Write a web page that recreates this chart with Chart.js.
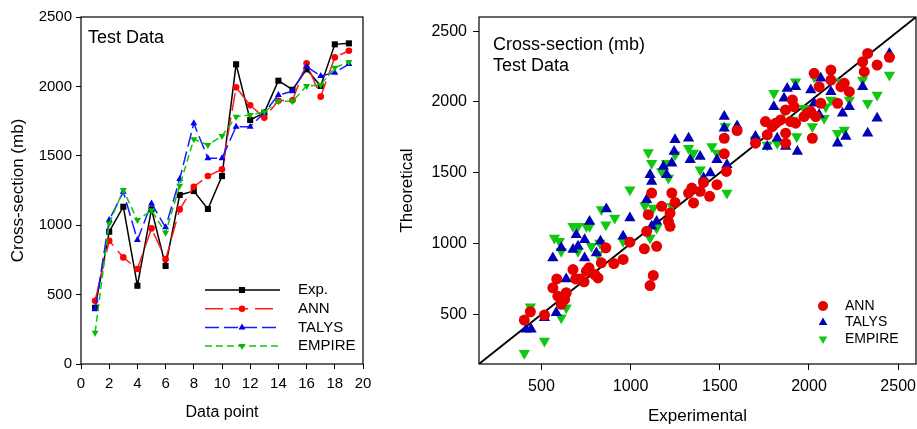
<!DOCTYPE html>
<html>
<head>
<meta charset="utf-8">
<script src="https://cdn.jsdelivr.net/npm/chart.js@4.4.1/dist/chart.umd.min.js"></script>
<style>
  html, body { margin: 0; padding: 0; background: #fff; }
  #wrapL { position: absolute; left: 0; top: 0; width: 380px; height: 429px; }
  #wrapR { position: absolute; left: 385px; top: 0; width: 532px; height: 429px; }
</style>
</head>
<body>
<div id="wrapL"><canvas id="left" width="380" height="429"></canvas></div>
<div id="wrapR"><canvas id="right" width="532" height="429"></canvas></div>
<script>
// ---------- Left panel data ----------
const dataPoints = [1,2,3,4,5,6,7,8,9,10,11,12,13,14,15,16,17,18,19];
const expVals    = [405,953,1133,564,1115,706,1218,1246,1117,1354,2159,1758,1811,2041,1976,2123,2003,2303,2310];
const annVals    = [456,888,768,684,977,754,1114,1277,1354,1403,1993,1864,1775,1897,1900,2166,1926,2209,2257];
const talysVals  = [394,1037,1241,893,1157,985,1333,1734,1482,1482,1710,1710,1811,1938,1965,2142,2075,2099,2161];
const empireVals = [226,1013,1253,1037,1107,946,1285,1619,1578,1643,1782,1794,1816,1893,1893,2003,2010,2135,2176];
const leftXTicks = [0,2,4,6,8,10,12,14,16,18,20];
const leftYTicks = [0,500,1000,1500,2000,2500];

// ---------- Right panel data ----------
const annExp = [404,438,517,564,586,592,611,630,639,677,692,714,739,752,767,799,817,836,861,906,958,996,1077,1109,1127,1146,1090,1221,1212,1118,1099,1174,1231,1249,1221,1325,1343,1353,1390,1409,1443,1484,1525,1525,1537,1597,1700,1756,1766,1794,1813,1841,1869,1869,1869,1907,1916,1925,1897,1972,1991,2010,2019,2038,2066,2057,2029,2123,2123,2160,2179,2198,2226,2301,2310,2329,2382,2451];
const annTheo = [460,519,496,688,751,629,571,606,653,817,751,751,730,805,829,782,758,864,970,859,888,1010,963,704,775,981,1087,1122,1157,1357,1204,1263,1357,1291,1216,1357,1392,1287,1369,1432,1334,1416,1634,1744,1510,1798,1709,1862,1768,1826,1850,1873,1780,1709,1944,2014,1967,1850,1862,1897,1920,1932,1744,1897,1991,2108,2202,2225,2155,1991,2108,2132,2073,2284,2214,2343,2261,2315];
const talysExp = [414,442,517,564,611,583,639,695,677,705,742,742,770,808,831,996,958,1118,1146,864,1090,1109,1118,1184,1202,1231,1244,1249,1325,1334,1390,1409,1447,1484,1525,1525,1540,1597,1700,1766,1803,1860,1869,1878,1925,1935,2010,2029,2066,2123,2160,2188,2207,2226,2301,2329,2382,2451,2057,1822];
const talysTheo = [395,395,477,899,970,512,751,1063,958,981,1028,899,1157,934,1017,1181,1052,1122,1157,1244,1310,1486,1439,1545,1486,1568,1650,1733,1744,1592,1615,1463,1498,1592,1897,1815,1557,1831,1756,1686,1967,2026,1686,2096,2108,1650,2085,1991,2167,2073,1709,1920,1756,1967,2108,1780,1885,2343,1909,1744];
const empireExp = [404,438,517,573,601,611,611,639,677,705,705,752,770,780,817,827,861,958,1109,1127,1146,836,911,996,1080,1099,1118,1174,1202,1212,1249,1231,1325,1353,1390,1409,1456,1484,1540,1531,1700,1766,1803,1822,1907,1925,1931,1972,2019,2029,2085,2094,2123,2160,2179,2198,2226,2301,2329,2382,2451,1860];
const empireTheo = [226,554,312,1040,1017,946,477,547,1122,1122,946,1122,1122,981,923,1005,1134,1017,1040,1251,1110,1240,1181,1380,1268,1643,1568,1510,1568,1463,1627,1263,1674,1639,1521,1439,1686,1639,1357,1826,1733,1697,2061,1709,1873,2143,1756,1956,1826,2178,1885,1967,2014,1780,2143,1803,2014,2155,1991,2049,2190,1932];
const rightRange = [150, 2600];
const rightTicks = [500,1000,1500,2000,2500];

Chart.defaults.font.family = 'Arial, "Liberation Sans", Helvetica, sans-serif';
Chart.defaults.color = '#000';

const pairs = (xs, ys) => xs.map((x, i) => ({x: x, y: ys[i]}));
const plain = v => String(v);
const noPad = s => { s.paddingLeft = 0; s.paddingRight = 0; s.paddingTop = 0; s.paddingBottom = 0; };

// frame around plot area
const framePlugin = {
  id: 'frame',
  afterDatasetsDraw(chart) {
    const a = chart.chartArea, ctx = chart.ctx;
    ctx.save();
    ctx.strokeStyle = '#000';
    ctx.lineWidth = 1.2;
    ctx.strokeRect(a.left, a.top, a.right - a.left, a.bottom - a.top);
    ctx.restore();
  }
};

// inner text + legend
const annotPlugin = {
  id: 'annot',
  afterDraw(chart, args, opts) {
    const a = chart.chartArea, ctx = chart.ctx;
    ctx.save();
    ctx.fillStyle = '#000';
    ctx.textAlign = 'left';
    ctx.textBaseline = 'alphabetic';
    ctx.font = opts.titleFont;
    opts.titleLines.forEach((t, i) => {
      ctx.fillText(t, a.left + opts.titleX, a.top + opts.titleY + i * opts.titleGap);
    });
    ctx.font = opts.legendFont;
    ctx.textBaseline = 'middle';
    opts.legendItems.forEach((di, i) => {
      const ds = chart.data.datasets[di];
      const y = a.top + opts.legTop + i * opts.legGap;
      if (opts.legLine) {
        ctx.save();
        ctx.strokeStyle = ds.borderColor;
        ctx.lineWidth = ds.borderWidth;
        ctx.setLineDash(ds.borderDash || []);
        ctx.beginPath();
        ctx.moveTo(a.left + opts.lineX0, y);
        ctx.lineTo(a.left + opts.lineX1, y);
        ctx.stroke();
        ctx.restore();
      }
      ctx.save();
      ctx.fillStyle = ds.pointBackgroundColor;
      ctx.strokeStyle = ds.pointBackgroundColor;
      Chart.helpers.drawPoint(ctx, {
        pointStyle: ds.pointStyle,
        radius: opts.legRadius || ds.pointRadius,
        rotation: ds.pointRotation || 0,
        borderWidth: 0
      }, a.left + opts.markX, y);
      ctx.restore();
      ctx.fillStyle = '#000';
      ctx.fillText(ds.label, a.left + opts.textX, y);
    });
    ctx.restore();
  }
};

// ---------- Left chart ----------
new Chart(document.getElementById('left'), {
  type: 'line',
  data: {
    datasets: [
      { label: 'Exp.', data: pairs(dataPoints, expVals), borderColor: '#000000', borderWidth: 1.5,
        pointStyle: 'rect', pointRadius: 4.3, pointBackgroundColor: '#000000', pointBorderWidth: 0, order: 4 },
      { label: 'ANN', data: pairs(dataPoints, annVals), borderColor: '#ff1a1a', borderWidth: 1.5, borderDash: [18, 7],
        pointStyle: 'circle', pointRadius: 3.3, pointBackgroundColor: '#ff0000', pointBorderWidth: 0, order: 3 },
      { label: 'TALYS', data: pairs(dataPoints, talysVals), borderColor: '#1a1aff', borderWidth: 1.5, borderDash: [14, 5],
        pointStyle: 'triangle', pointRadius: 4, pointBackgroundColor: '#0000ee', pointBorderWidth: 0, order: 2 },
      { label: 'EMPIRE', data: pairs(dataPoints, empireVals), borderColor: '#11c411', borderWidth: 1.5, borderDash: [7, 4],
        pointStyle: 'triangle', pointRotation: 180, pointRadius: 4, pointBackgroundColor: '#00bb00', pointBorderWidth: 0, order: 1 }
    ]
  },
  options: {
    responsive: false, animation: false, events: [],
    layout: { autoPadding: false, padding: { top: 17, right: 17, left: 0, bottom: 0 } },
    plugins: {
      legend: { display: false }, tooltip: { enabled: false },
      annot: {
        titleFont: '18px Arial, "Liberation Sans", sans-serif', titleLines: ['Test Data'],
        titleX: 7, titleY: 26, titleGap: 22,
        legendFont: '15px Arial, "Liberation Sans", sans-serif', legendItems: [0, 1, 2, 3],
        legTop: 273, legGap: 18.7, legLine: true, lineX0: 124, lineX1: 199, markX: 161, textX: 217
      }
    },
    scales: {
      x: {
        type: 'linear', min: 0, max: 20,
        afterBuildTicks: s => { s.ticks = leftXTicks.map(v => ({ value: v })); },
        afterFit: s => { s.height = 65; noPad(s); },
        ticks: { font: { size: 15 }, color: '#000', padding: 6, maxRotation: 0, autoSkip: false, callback: plain },
        grid: { drawOnChartArea: false, tickLength: 5, color: '#000', lineWidth: 1 },
        border: { display: false },
        title: { display: true, text: 'Data point', font: { size: 16 }, color: '#000', padding: { top: 0, bottom: 7 } }
      },
      y: {
        type: 'linear', min: 0, max: 2500,
        afterBuildTicks: s => { s.ticks = leftYTicks.map(v => ({ value: v })); },
        afterFit: s => { s.width = 81; noPad(s); },
        ticks: { font: { size: 15 }, color: '#000', padding: 4, callback: plain },
        grid: { drawOnChartArea: false, tickLength: 5, color: '#000', lineWidth: 1 },
        border: { display: false },
        title: { display: true, text: 'Cross-section (mb)', font: { size: 17 }, color: '#000', padding: { top: 8, bottom: 0 } }
      }
    }
  },
  plugins: [framePlugin, annotPlugin]
});

// ---------- Right chart ----------
new Chart(document.getElementById('right'), {
  type: 'scatter',
  data: {
    datasets: [
      { label: 'ANN', data: pairs(annExp, annTheo), pointStyle: 'circle', pointRadius: 5.5,
        pointBackgroundColor: '#e60000', backgroundColor: '#e60000', borderWidth: 0, pointBorderWidth: 0, order: 1 },
      { label: 'TALYS', data: pairs(talysExp, talysTheo), pointStyle: 'triangle', pointRadius: 6.5,
        pointBackgroundColor: '#0000b4', backgroundColor: '#0000b4', borderWidth: 0, pointBorderWidth: 0, order: 2 },
      { label: 'EMPIRE', data: pairs(empireExp, empireTheo), pointStyle: 'triangle', pointRotation: 180, pointRadius: 6.5,
        pointBackgroundColor: '#10c810', backgroundColor: '#10c810', borderWidth: 0, pointBorderWidth: 0, order: 3 },
      { type: 'line', label: 'y=x', data: pairs(rightRange, rightRange), borderColor: '#000', borderWidth: 1.8,
        pointRadius: 0, fill: false, order: 4 }
    ]
  },
  options: {
    responsive: false, animation: false, events: [],
    layout: { autoPadding: false, padding: { top: 17, right: 1, left: 0, bottom: 0 } },
    plugins: {
      legend: { display: false }, tooltip: { enabled: false },
      annot: {
        titleFont: '18px Arial, "Liberation Sans", sans-serif', titleLines: ['Cross-section (mb)', 'Test Data'],
        titleX: 14, titleY: 33, titleGap: 21,
        legendFont: '14px Arial, "Liberation Sans", sans-serif', legendItems: [0, 1, 2],
        legTop: 289, legGap: 16.5, legLine: false, markX: 344, textX: 366, legRadius: 5
      }
    },
    scales: {
      x: {
        type: 'linear', min: rightRange[0], max: rightRange[1],
        afterBuildTicks: s => { s.ticks = rightTicks.map(v => ({ value: v })); },
        afterFit: s => { s.height = 65; noPad(s); },
        ticks: { font: { size: 16 }, color: '#000', padding: 7, maxRotation: 0, autoSkip: false, callback: plain },
        grid: { drawOnChartArea: false, tickLength: 6, color: '#000', lineWidth: 1 },
        border: { display: false },
        title: { display: true, text: 'Experimental', font: { size: 17 }, color: '#000', padding: { top: 0, bottom: 2 } }
      },
      y: {
        type: 'linear', min: rightRange[0], max: rightRange[1],
        afterBuildTicks: s => { s.ticks = rightTicks.map(v => ({ value: v })); },
        afterFit: s => { s.width = 94; noPad(s); },
        ticks: { font: { size: 16 }, color: '#000', padding: 6, callback: plain },
        grid: { drawOnChartArea: false, tickLength: 6, color: '#000', lineWidth: 1 },
        border: { display: false },
        title: { display: true, text: 'Theoretical', font: { size: 17 }, color: '#000', padding: { top: 12, bottom: 0 } }
      }
    }
  },
  plugins: [framePlugin, annotPlugin]
});
</script>
</body>
</html>
